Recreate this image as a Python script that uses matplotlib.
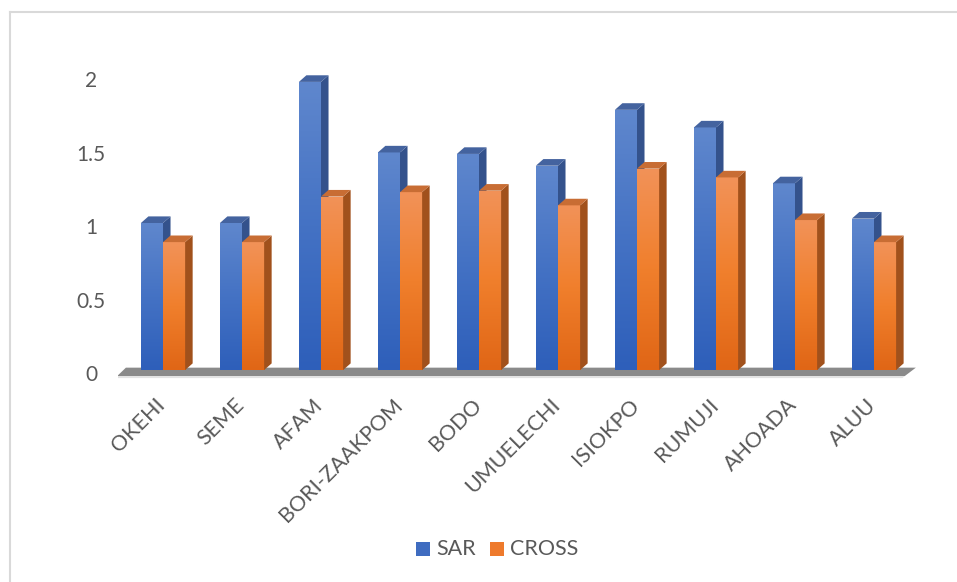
import numpy as np
import matplotlib
matplotlib.use("Agg")
import matplotlib.pyplot as plt
from matplotlib.patches import Polygon
from matplotlib.colors import LinearSegmentedColormap
import matplotlib.transforms as mtransforms

plt.rcParams["font.family"] = ["Lato", "DejaVu Sans"]

categories = ["OKEHI", "SEME", "AFAM", "BORI-ZAAKPOM", "BODO", "UMUELECHI",
              "ISIOKPO", "RUMUJI", "AHOADA", "ALUU"]
sar = [1.00, 1.00, 1.96, 1.48, 1.47, 1.39, 1.77, 1.65, 1.27, 1.03]
cross = [0.87, 0.87, 1.18, 1.21, 1.22, 1.12, 1.37, 1.31, 1.02, 0.87]
yticks = [0, 0.5, 1, 1.5, 2]

text_col = "#595959"
# front gradient (top -> bottom), side and top face colours
sar_front = ["#5f87cd", "#4472c4", "#2e5fba"]
sar_side, sar_top = "#34528c", "#44639f"
cross_front = ["#f29258", "#f07f2c", "#e06616"]
cross_side, cross_top = "#a1511c", "#c86d34"

fig = plt.figure(figsize=(9.57, 5.82), dpi=100)
W, H = 957, 582
# axes placed so that 1 unit = 147 px, baseline at 370 px
ax = fig.add_axes([118 / W, (H - 380) / H, 800 / W, 320 / H])
ax.axis("off")

bw = 0.28       # bar width in category units
ddx = 0.095     # depth offset x
ddy = 0.045     # depth offset y
n = len(categories)
x = np.arange(n)

# floor
floor = Polygon([(-0.58, -0.041), (n - 0.61, -0.041), (n - 0.47, 0.016), (-0.47, 0.016)],
                closed=True, facecolor="#8a8a8a", edgecolor="none", zorder=1)
ax.add_patch(floor)
front_strip = Polygon([(-0.58, -0.041), (n - 0.61, -0.041), (n - 0.64, -0.055), (-0.6, -0.055)],
                      closed=True, facecolor="#e3e3e3", edgecolor="none", zorder=1)
ax.add_patch(front_strip)


def draw_bar(x0, h, front, side, top, z):
    cmap = LinearSegmentedColormap.from_list("g", front[::-1])
    grad = np.linspace(0, 1, 100).reshape(-1, 1)
    bars = ax.bar(x0, h, width=bw, align="edge", color=front[1], zorder=z)
    patch = bars[0]
    im = ax.imshow(grad, cmap=cmap, aspect="auto", origin="lower",
                   extent=(x0, x0 + bw, 0, h), zorder=z)
    im.set_clip_path(patch)
    ax.add_patch(Polygon([(x0 + bw, 0), (x0 + bw + ddx, ddy), (x0 + bw + ddx, h + ddy), (x0 + bw, h)],
                         closed=True, facecolor=side, edgecolor="none", zorder=z))
    ax.add_patch(Polygon([(x0, h), (x0 + ddx, h + ddy), (x0 + bw + ddx, h + ddy), (x0 + bw, h)],
                         closed=True, facecolor=top, edgecolor="none", zorder=z))


for i in range(n):
    draw_bar(x[i] - bw, sar[i], sar_front, sar_side, sar_top, 2 + i * 2)
    draw_bar(x[i], cross[i], cross_front, cross_side, cross_top, 3 + i * 2)

ax.set_xlim(-0.57, 9.557)
ax.set_ylim(-0.068, 2.109)

# y tick labels
ytrans = mtransforms.blended_transform_factory(fig.transFigure, ax.transData) + \
    mtransforms.ScaledTranslation(0, -5 / 100, fig.dpi_scale_trans)
for v in yticks:
    ax.text(91 / W, v, f"{v:g}", transform=ytrans, ha="center", va="center",
            fontsize=15, color=text_col, clip_on=False)

# category labels
xtrans = ax.transData + mtransforms.ScaledTranslation(-8 / 100, -25 / 100, fig.dpi_scale_trans)
for i, c in enumerate(categories):
    ax.text(x[i], 0, c, transform=xtrans, rotation=45, rotation_mode="anchor",
            ha="right", va="top", fontsize=15.5, color=text_col, clip_on=False)

# legend
fig.patches.append(plt.Rectangle((416 / W, (H - 556) / H), 14 / W, 14 / H,
                                 transform=fig.transFigure, facecolor="#3f6cc0", edgecolor="none"))
fig.text(436 / W, (H - 549) / H, "SAR", ha="left", va="center", fontsize=15.5, color=text_col)
fig.patches.append(plt.Rectangle((490 / W, (H - 556) / H), 14 / W, 14 / H,
                                 transform=fig.transFigure, facecolor="#ee7a2c", edgecolor="none"))
fig.text(510 / W, (H - 549) / H, "CROSS", ha="left", va="center", fontsize=15.5, color=text_col)

# chart area border (top and left visible)
fig.add_artist(plt.Line2D([10 / W, 10 / W], [0, (H - 12) / H], color="#d9d9d9", lw=1.5,
                          transform=fig.transFigure))
fig.add_artist(plt.Line2D([10 / W, 1], [(H - 12) / H, (H - 12) / H], color="#d9d9d9", lw=1.5,
                          transform=fig.transFigure))

fig.savefig("out.png", dpi=100, facecolor="white")
